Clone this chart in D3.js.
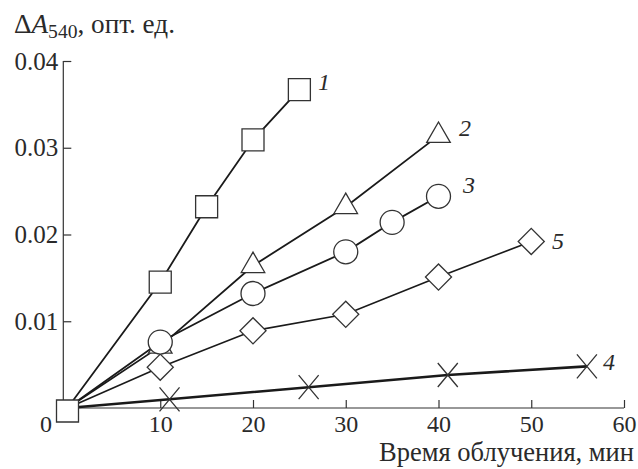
<!DOCTYPE html>
<html>
<head>
<meta charset="utf-8">
<script src="https://cdn.jsdelivr.net/npm/d3@7"></script>
<style>
  html, body { margin: 0; padding: 0; background: #fff; }
  svg { display: block; }
</style>
</head>
<body>
<svg id="chart" width="638" height="469"></svg>
<script>
// ---- data ----
const xTicks = [10, 20, 30, 40, 50, 60];
const yTicks = [0.01, 0.02, 0.03, 0.04];
const yTickLabels = ["0.01", "0.02", "0.03", "0.04"];
const xAxisTitle = "Время облучения, мин";

const s1x = [0, 10, 15, 20, 25];
const s1y = [0, 0.0145, 0.0232, 0.0309, 0.0367];
const s2x = [0, 10, 20, 30, 40];
const s2y = [0, 0.0071, 0.0164, 0.0232, 0.0314];
const s3x = [0, 10, 20, 30, 35, 40];
const s3y = [0, 0.0076, 0.0132, 0.0180, 0.0214, 0.0244];
const s5x = [0, 10, 20, 30, 40, 50];
const s5y = [0, 0.0047, 0.0089, 0.0108, 0.0151, 0.0192];
const s4x = [0, 11, 26, 41, 56];
const s4y = [0, 0.0010, 0.0024, 0.0038, 0.0048];

const seriesNames = ["1", "2", "3", "5", "4"];

// ---- layout ----
const FONT = '"Liberation Serif"';
const INK = "#2a2a2a";
const svg = d3.select("#chart");
const x = d3.scaleLinear().domain([0, 60]).range([67.5, 624]);
const y = d3.scaleLinear().domain([0, 0.04]).range([408, 61]);
const axisX0 = 63.3;

const series = [
  { name: seriesNames[0], xs: s1x, ys: s1y, shape: "square", width: 1.8, label: [324, 82] },
  { name: seriesNames[1], xs: s2x, ys: s2y, shape: "triangle", width: 1.8, label: [465, 128] },
  { name: seriesNames[2], xs: s3x, ys: s3y, shape: "circle", width: 1.8, label: [469, 185] },
  { name: seriesNames[3], xs: s5x, ys: s5y, shape: "diamond", width: 1.6, label: [558, 241] },
  { name: seriesNames[4], xs: s4x, ys: s4y, shape: "cross", width: 2.6, label: [609, 362] }
];

// ---- axes ----
const gx = svg.append("g").attr("transform", `translate(0,${y(0)})`)
  .call(d3.axisBottom(x).tickValues(xTicks).tickSizeInner(-8).tickSizeOuter(0).tickPadding(7).tickFormat(d3.format("d")));
gx.attr("font-family", null);
gx.select(".domain").remove();
gx.selectAll(".tick line").attr("stroke", "#333").attr("stroke-width", 1.2);
gx.selectAll(".tick text").attr("font-size", 24).style("font-family", FONT).attr("fill", INK);
svg.append("line").attr("x1", axisX0).attr("x2", x(60)).attr("y1", y(0)).attr("y2", y(0))
  .attr("stroke", "#333").attr("stroke-width", 1.2);
svg.append("text").attr("x", 46).attr("y", y(0) + 7).attr("dy", "0.71em")
  .attr("text-anchor", "middle").attr("font-size", 24).style("font-family", FONT).attr("fill", INK).text("0");

const gy = svg.append("g").attr("transform", `translate(${axisX0},0)`)
  .call(d3.axisLeft(y).tickValues(yTicks).tickSizeInner(-8).tickSizeOuter(0).tickPadding(5)
    .tickFormat((d, i) => yTickLabels[i]));
gy.attr("font-family", null);
gy.select(".domain").remove();
gy.selectAll(".tick line").attr("stroke", "#333").attr("stroke-width", 1.2);
gy.selectAll(".tick text").attr("font-size", 25).style("font-family", FONT).attr("fill", INK);
svg.append("line").attr("x1", axisX0).attr("x2", axisX0).attr("y1", y(0)).attr("y2", y(0.04))
  .attr("stroke", "#333").attr("stroke-width", 1.2);

// titles (font size fitted to the reference's text width)
function fitWidth(sel, target) {
  const w = sel.node().getComputedTextLength();
  const fs = parseFloat(sel.attr("font-size"));
  sel.attr("font-size", (fs * target / w).toFixed(2));
}
const yt = svg.append("text").attr("x", 14).attr("y", 33).attr("font-size", 22)
  .style("font-family", FONT).attr("fill", INK);
yt.append("tspan").text("Δ");
yt.append("tspan").attr("font-style", "italic").text("A");
yt.append("tspan").attr("font-size", "0.72em").attr("dy", 5).text("540");
yt.append("tspan").attr("dy", -5).text(", опт. ед.");
fitWidth(yt, 161);

const xt = svg.append("text").attr("x", 634).attr("y", 461).attr("text-anchor", "end")
  .attr("font-size", 22).style("font-family", FONT).attr("fill", INK).text(xAxisTitle);
fitWidth(xt, 255);

// ---- lines ----
const line = d3.line().x(d => x(d[0])).y(d => y(d[1]));
series.forEach(s => {
  const pts = s.xs.map((v, i) => [v, s.ys[i]]);
  svg.append("path").datum(pts).attr("d", line)
    .attr("fill", "none").attr("stroke", "#1a1a1a").attr("stroke-width", s.width);
});

// ---- markers ----
function markerPath(shape) {
  switch (shape) {
    case "square": return d3.symbol(d3.symbolSquare, 484)();
    case "circle": return d3.symbol(d3.symbolCircle, 452)();
    case "triangle": return d3.symbol(d3.symbolTriangle, 240)();
    case "diamond": return d3.symbol(d3.symbolSquare, 340)();
    case "cross": return "M-10,-12L10,12M-10,12L10,-12";
  }
}
const order = ["diamond", "triangle", "circle", "cross", "square"];
order.forEach(shape => {
  series.filter(s => s.shape === shape).forEach(s => {
    s.xs.forEach((v, i) => {
      if (v === 0 && s.shape !== "square") return;
      svg.append("path")
        .attr("d", markerPath(s.shape))
        .attr("transform", `translate(${x(v)},${y(s.ys[i]) + (v === 0 ? 3 : 0)})` + (s.shape === "diamond" ? " rotate(45)" : ""))
        .attr("fill", s.shape === "cross" ? "none" : "#fff")
        .attr("stroke", "#333").attr("stroke-width", 1.3);
    });
  });
});

// series labels
series.forEach(s => {
  svg.append("text").attr("x", s.label[0]).attr("y", s.label[1]).attr("dy", "0.35em")
    .attr("text-anchor", "middle").attr("font-style", "italic").attr("font-size", 24)
    .style("font-family", FONT).attr("fill", INK).text(s.name);
});
</script>
</body>
</html>
